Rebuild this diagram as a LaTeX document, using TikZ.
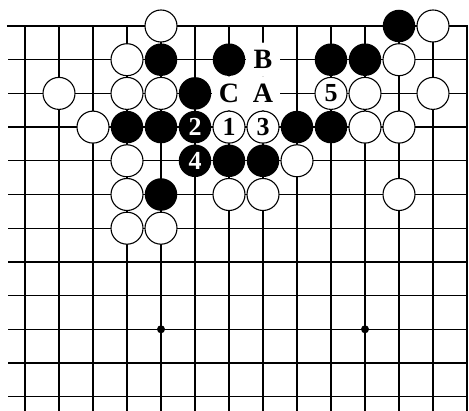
\documentclass[tikz,border=0pt]{standalone}
\usepackage{fontspec}
\setmainfont{Liberation Serif}
\begin{document}
\begin{tikzpicture}[x=34pt, y=-33.7pt,
  wstone/.style={circle, draw=black, line width=1.1pt, fill=white,
    minimum size=32pt, inner sep=0pt, font=\fontsize{26}{26}\selectfont\bfseries},
  bstone/.style={circle, fill=black, minimum size=32.5pt, inner sep=0pt,
    text=white, font=\fontsize{26}{26}\selectfont\bfseries},
  lbl/.style={circle, fill=white, minimum size=34pt, inner sep=0pt,
    font=\fontsize{28}{28}\selectfont\bfseries}]
  \useasboundingbox (-0.7353,-0.7715) rectangle (13.0588,11.4243);
  % grid
  \foreach \r in {1,...,11} \draw[line width=1.3pt] (-0.5,\r) -- (13,\r);
  \foreach \c in {0,...,12} \draw[line width=1.3pt] (\c,0) -- (\c,11.5);
  \draw[line width=2.2pt] (-0.53,0) -- (13,0) -- (13,11.5);
  \fill (4,9) circle (4pt);
  \fill (10,9) circle (4pt);
  % row 0
  \node[wstone] (w-4-0) at (4,0) {};
  \node[bstone] (b-11-0) at (11,0) {};
  \node[wstone] (w-12-0) at (12,0) {};
  % row 1
  \node[wstone] (w-3-1) at (3,1) {};
  \node[bstone] (b-4-1) at (4,1) {};
  \node[bstone] (b-6-1) at (6,1) {};
  \node[lbl] (ptB) at (7,1) {B};
  \node[bstone] (b-9-1) at (9,1) {};
  \node[bstone] (b-10-1) at (10,1) {};
  \node[wstone] (w-11-1) at (11,1) {};
  % row 2
  \node[wstone] (w-1-2) at (1,2) {};
  \node[wstone] (w-3-2) at (3,2) {};
  \node[wstone] (w-4-2) at (4,2) {};
  \node[bstone] (b-5-2) at (5,2) {};
  \node[lbl] (ptC) at (6,2) {C};
  \node[lbl] (ptA) at (7,2) {A};
  \node[wstone] (mv5) at (9,2) {5};
  \node[wstone] (w-10-2) at (10,2) {};
  \node[wstone] (w-12-2) at (12,2) {};
  % row 3
  \node[wstone] (w-2-3) at (2,3) {};
  \node[bstone] (b-3-3) at (3,3) {};
  \node[bstone] (b-4-3) at (4,3) {};
  \node[bstone] (mv2) at (5,3) {2};
  \node[wstone] (mv1) at (6,3) {1};
  \node[wstone] (mv3) at (7,3) {3};
  \node[bstone] (b-8-3) at (8,3) {};
  \node[bstone] (b-9-3) at (9,3) {};
  \node[wstone] (w-10-3) at (10,3) {};
  \node[wstone] (w-11-3) at (11,3) {};
  % row 4
  \node[wstone] (w-3-4) at (3,4) {};
  \node[bstone] (mv4) at (5,4) {4};
  \node[bstone] (b-6-4) at (6,4) {};
  \node[bstone] (b-7-4) at (7,4) {};
  \node[wstone] (w-8-4) at (8,4) {};
  % row 5
  \node[wstone] (w-3-5) at (3,5) {};
  \node[bstone] (b-4-5) at (4,5) {};
  \node[wstone] (w-6-5) at (6,5) {};
  \node[wstone] (w-7-5) at (7,5) {};
  \node[wstone] (w-11-5) at (11,5) {};
  % row 6
  \node[wstone] (w-3-6) at (3,6) {};
  \node[wstone] (w-4-6) at (4,6) {};
\end{tikzpicture}
\end{document}
